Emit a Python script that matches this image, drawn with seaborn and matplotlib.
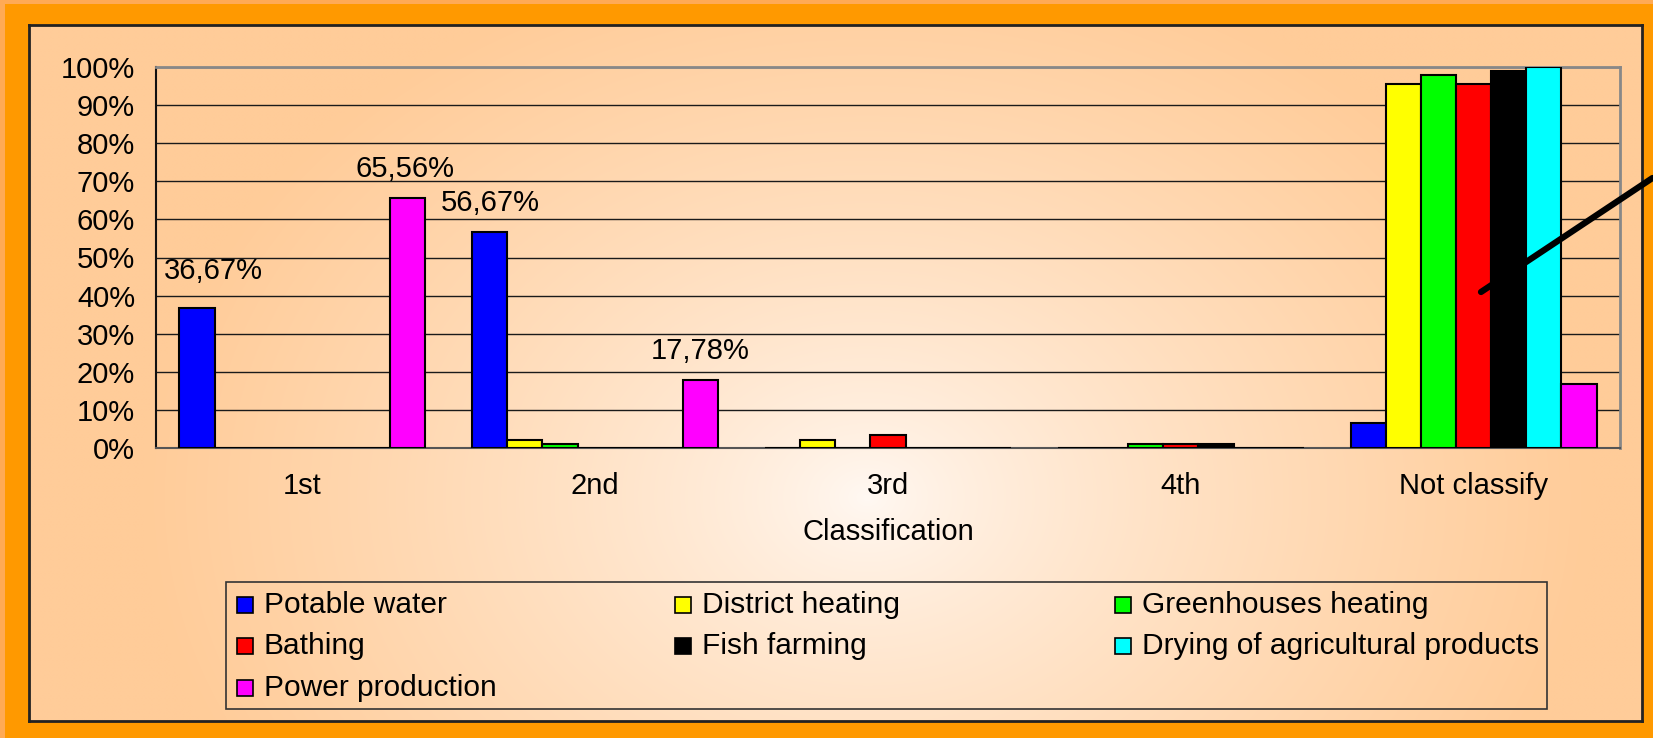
import numpy as np
import pandas as pd
import matplotlib
matplotlib.use("Agg")
import matplotlib.pyplot as plt
import seaborn as sns
from matplotlib.patches import Rectangle
from matplotlib.lines import Line2D
from matplotlib.colors import to_rgb

# -------------------------------
# Data
# -------------------------------
categories = ["1st", "2nd", "3rd", "4th", "Not classify"]
series_names = ["Potable water", "District heating", "Greenhouses heating",
                "Bathing", "Fish farming", "Drying of agricultural products",
                "Power production"]
potable_water = [36.67, 56.67, 0, 0, 6.67]
district_heating = [0, 2.22, 2.22, 0, 95.56]
greenhouses = [0, 1.11, 0, 1.11, 97.78]
bathing = [0, 0, 3.33, 1.11, 95.56]
fish_farming = [0, 0, 0, 1.11, 98.89]
drying = [0, 0, 0, 0, 100.0]
power = [65.56, 17.78, 0, 0, 16.67]
colors = ["#0000FF", "#FFFF00", "#00FF00", "#FF0000", "#000000", "#00FFFF", "#FF00FF"]

# labelled bars: (series, category)
labelled = [("Potable water", "1st"), ("Power production", "1st"),
            ("Potable water", "2nd"), ("Power production", "2nd")]

all_values = [potable_water, district_heating, greenhouses, bathing,
              fish_farming, drying, power]
rows = []
for name, vals in zip(series_names, all_values):
    for cat, v in zip(categories, vals):
        rows.append({"Classification": cat, "Use": name, "Share": v})
df = pd.DataFrame(rows)

W, H = 1653, 738
FS = 21
sns.set_style("white")
plt.rcParams["font.family"] = ["Liberation Sans", "DejaVu Sans"]
plt.rcParams["text.color"] = "black"
plt.rcParams["axes.labelcolor"] = "black"
plt.rcParams["xtick.color"] = "black"
plt.rcParams["ytick.color"] = "black"

fig = plt.figure(figsize=(W / 100, H / 100), dpi=100)
fig.patch.set_facecolor("#FF9900")

# light outer strip on the left / top
fig.add_artist(Rectangle((0, 0), 5 / W, 1, transform=fig.transFigure,
                         facecolor="#FFAA55", edgecolor="none", zorder=0))
fig.add_artist(Rectangle((0, 1 - 4 / H), 1, 4 / H, transform=fig.transFigure,
                         facecolor="#FFAA55", edgecolor="none", zorder=0))

# -------------------------------
# Gradient panel
# -------------------------------
px0, px1, py0, py1 = 29, 1642, 25, 721
bg = fig.add_axes([px0 / W, 1 - py1 / H, (px1 - px0) / W, (py1 - py0) / H])
gx, gy = np.meshgrid(np.linspace(0, 1, 400), np.linspace(1, 0, 200))
d = np.sqrt(((gx - 0.52) / 0.45) ** 2 + ((gy - 0.32) / 0.8) ** 2)
t = np.clip(d, 0, 1) ** 0.75
peach = np.array(to_rgb("#FFCC99"))
white = np.array(to_rgb("#FFF9F4"))
img = white[None, None, :] * (1 - t[..., None]) + peach[None, None, :] * t[..., None]
bg.imshow(img, aspect="auto", extent=[0, 1, 0, 1], interpolation="bilinear")
bg.set_xticks([])
bg.set_yticks([])
for s in bg.spines.values():
    s.set_color("#222222")
    s.set_linewidth(2)

# -------------------------------
# Bars
# -------------------------------
ax = fig.add_axes([156 / W, 1 - 448 / H, (1620 - 156) / W, (448 - 67) / H])
ax.patch.set_alpha(0)
sns.barplot(data=df, x="Classification", y="Share", hue="Use",
            order=categories, hue_order=series_names, palette=colors,
            width=0.84, gap=0, edgecolor="black", linewidth=1.5,
            saturation=1, errorbar=None, ax=ax, zorder=3, legend=False)

ax.set_ylim(0, 100)
ax.set_xlim(-0.5, 4.5)
ax.set_yticks(np.arange(0, 101, 10))
ax.set_yticklabels([f"{v}%" for v in range(0, 101, 10)], fontsize=FS)
ax.yaxis.grid(True, color="#1a1a1a", linewidth=1)
ax.set_axisbelow(True)
ax.set_xticks(range(len(categories)))
ax.set_xticklabels(categories, fontsize=FS)
ax.set_xticks(np.arange(-0.5, 4.6, 1), minor=True)
ax.tick_params(axis="x", which="major", length=0, pad=17)
ax.tick_params(axis="x", which="minor", length=8, color="#777777", width=1.5)
ax.tick_params(axis="y", length=9, color="#222222", width=1, pad=6)
ax.set_xlabel("Classification", fontsize=FS, labelpad=13)
ax.set_ylabel("")
ax.spines["left"].set_color("#111111")
ax.spines["left"].set_linewidth(1.5)
ax.spines["bottom"].set_color("#555555")
ax.spines["bottom"].set_linewidth(1.5)
ax.spines["top"].set_color("#888888")
ax.spines["top"].set_linewidth(2)
ax.spines["right"].set_color("#888888")
ax.spines["right"].set_linewidth(2)

# value labels (offsets in pixels)
label_dx = [16, -3, 0, 0]
label_dy = [37, 29, 29, 29]
for (name, cat), dx, dy in zip(labelled, label_dx, label_dy):
    bar = ax.containers[series_names.index(name)][categories.index(cat)]
    v = bar.get_height()
    ax.annotate(f"{v:.2f}%".replace(".", ","),
                (bar.get_x() + bar.get_width() / 2, v),
                xytext=(dx * 0.72, dy * 0.72), textcoords="offset points",
                ha="center", va="center", fontsize=FS)

# -------------------------------
# Legend: equal-width columns, row-major order
# -------------------------------
lx0, lx1, ly0, ly1 = 226, 1547, 582, 709
fig.add_artist(Rectangle((lx0 / W, 1 - ly1 / H), (lx1 - lx0) / W, (ly1 - ly0) / H,
                         transform=fig.transFigure, facecolor="none",
                         edgecolor="#333333", linewidth=1.2, zorder=5))
col_x = [237, 675, 1115]
row_y = [605, 646, 688]
sq = 16
for i, (name, c) in enumerate(zip(series_names, colors)):
    x = col_x[i % 3]
    y = row_y[i // 3]
    fig.add_artist(Rectangle((x / W, 1 - (y + sq / 2) / H), sq / W, sq / H,
                             transform=fig.transFigure, facecolor=c,
                             edgecolor="black", linewidth=1.2, zorder=6))
    fig.text((x + sq + 11) / W, 1 - y / H, name, fontsize=21.5,
             ha="left", va="center", zorder=6)

# black arrow line on the right
fig.add_artist(Line2D([1481 / W, 1 - 0.5 / W], [1 - 292 / H, 1 - 178 / H],
                      transform=fig.transFigure, color="black",
                      linewidth=4.5, zorder=10))

fig.savefig("out.png", dpi=100, facecolor=fig.get_facecolor())
